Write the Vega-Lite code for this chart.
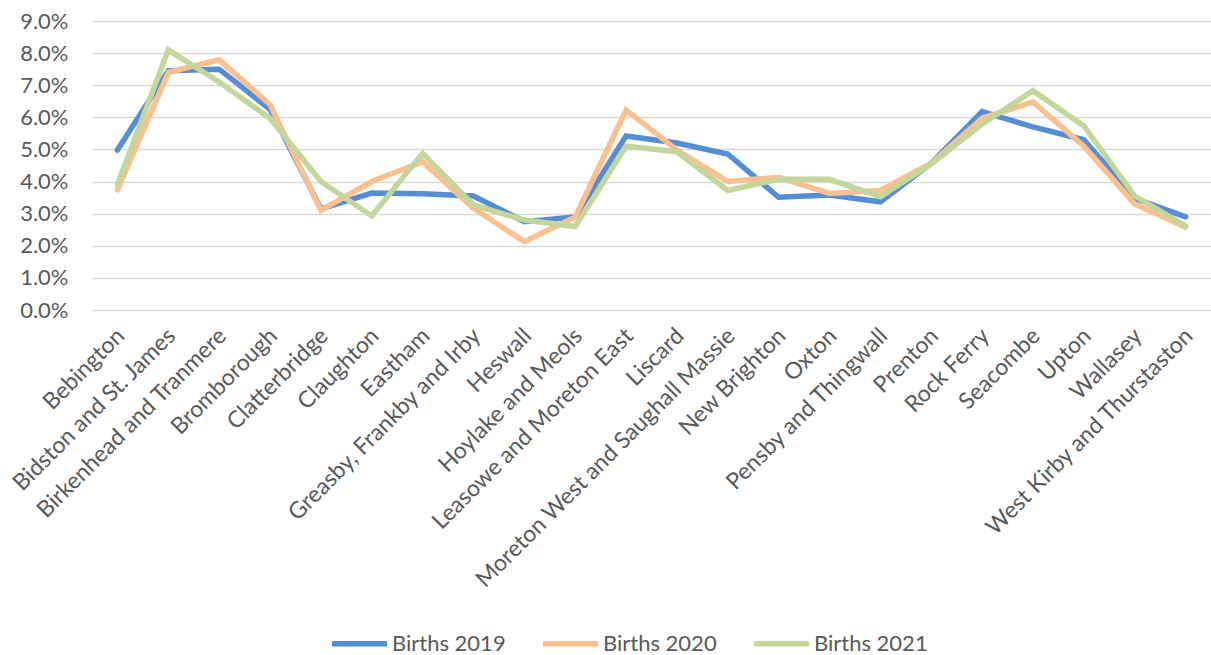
{
  "$schema": "https://vega.github.io/schema/vega-lite/v6.json",
  "width": 1119,
  "height": 289,
  "autosize": {"type": "none"},
  "padding": {"left": 92, "top": 21, "right": 0, "bottom": 345},
  "background": "white",
  "config": {
    "view": {"stroke": null},
    "font": "Lato",
    "axis": {"labelFont": "Lato", "labelColor": "#595959", "labelFontSize": 22}
  },
  "data": {
    "values": [
      {"ward": "Bebington", "series": "Births 2019", "v": 0.0498},
      {"ward": "Bebington", "series": "Births 2020", "v": 0.0374},
      {"ward": "Bebington", "series": "Births 2021", "v": 0.0390},
      {"ward": "Bidston and St. James", "series": "Births 2019", "v": 0.0745},
      {"ward": "Bidston and St. James", "series": "Births 2020", "v": 0.0740},
      {"ward": "Bidston and St. James", "series": "Births 2021", "v": 0.0810},
      {"ward": "Birkenhead and Tranmere", "series": "Births 2019", "v": 0.0750},
      {"ward": "Birkenhead and Tranmere", "series": "Births 2020", "v": 0.0779},
      {"ward": "Birkenhead and Tranmere", "series": "Births 2021", "v": 0.0710},
      {"ward": "Bromborough", "series": "Births 2019", "v": 0.0625},
      {"ward": "Bromborough", "series": "Births 2020", "v": 0.0640},
      {"ward": "Bromborough", "series": "Births 2021", "v": 0.0597},
      {"ward": "Clatterbridge", "series": "Births 2019", "v": 0.0315},
      {"ward": "Clatterbridge", "series": "Births 2020", "v": 0.0310},
      {"ward": "Clatterbridge", "series": "Births 2021", "v": 0.0400},
      {"ward": "Claughton", "series": "Births 2019", "v": 0.0364},
      {"ward": "Claughton", "series": "Births 2020", "v": 0.0400},
      {"ward": "Claughton", "series": "Births 2021", "v": 0.0293},
      {"ward": "Eastham", "series": "Births 2019", "v": 0.0362},
      {"ward": "Eastham", "series": "Births 2020", "v": 0.0462},
      {"ward": "Eastham", "series": "Births 2021", "v": 0.0488},
      {"ward": "Greasby, Frankby and Irby", "series": "Births 2019", "v": 0.0355},
      {"ward": "Greasby, Frankby and Irby", "series": "Births 2020", "v": 0.0317},
      {"ward": "Greasby, Frankby and Irby", "series": "Births 2021", "v": 0.0327},
      {"ward": "Heswall", "series": "Births 2019", "v": 0.0275},
      {"ward": "Heswall", "series": "Births 2020", "v": 0.0213},
      {"ward": "Heswall", "series": "Births 2021", "v": 0.0280},
      {"ward": "Hoylake and Meols", "series": "Births 2019", "v": 0.0290},
      {"ward": "Hoylake and Meols", "series": "Births 2020", "v": 0.0290},
      {"ward": "Hoylake and Meols", "series": "Births 2021", "v": 0.0260},
      {"ward": "Leasowe and Moreton East", "series": "Births 2019", "v": 0.0542},
      {"ward": "Leasowe and Moreton East", "series": "Births 2020", "v": 0.0623},
      {"ward": "Leasowe and Moreton East", "series": "Births 2021", "v": 0.0510},
      {"ward": "Liscard", "series": "Births 2019", "v": 0.0520},
      {"ward": "Liscard", "series": "Births 2020", "v": 0.0498},
      {"ward": "Liscard", "series": "Births 2021", "v": 0.0493},
      {"ward": "Moreton West and Saughall Massie", "series": "Births 2019", "v": 0.0486},
      {"ward": "Moreton West and Saughall Massie", "series": "Births 2020", "v": 0.0400},
      {"ward": "Moreton West and Saughall Massie", "series": "Births 2021", "v": 0.0372},
      {"ward": "New Brighton", "series": "Births 2019", "v": 0.0351},
      {"ward": "New Brighton", "series": "Births 2020", "v": 0.0413},
      {"ward": "New Brighton", "series": "Births 2021", "v": 0.0407},
      {"ward": "Oxton", "series": "Births 2019", "v": 0.0358},
      {"ward": "Oxton", "series": "Births 2020", "v": 0.0363},
      {"ward": "Oxton", "series": "Births 2021", "v": 0.0407},
      {"ward": "Pensby and Thingwall", "series": "Births 2019", "v": 0.0337},
      {"ward": "Pensby and Thingwall", "series": "Births 2020", "v": 0.0372},
      {"ward": "Pensby and Thingwall", "series": "Births 2021", "v": 0.0353},
      {"ward": "Prenton", "series": "Births 2019", "v": 0.0457},
      {"ward": "Prenton", "series": "Births 2020", "v": 0.0457},
      {"ward": "Prenton", "series": "Births 2021", "v": 0.0455},
      {"ward": "Rock Ferry", "series": "Births 2019", "v": 0.0618},
      {"ward": "Rock Ferry", "series": "Births 2020", "v": 0.0597},
      {"ward": "Rock Ferry", "series": "Births 2021", "v": 0.0579},
      {"ward": "Seacombe", "series": "Births 2019", "v": 0.0570},
      {"ward": "Seacombe", "series": "Births 2020", "v": 0.0648},
      {"ward": "Seacombe", "series": "Births 2021", "v": 0.0683},
      {"ward": "Upton", "series": "Births 2019", "v": 0.0530},
      {"ward": "Upton", "series": "Births 2020", "v": 0.0510},
      {"ward": "Upton", "series": "Births 2021", "v": 0.0573},
      {"ward": "Wallasey", "series": "Births 2019", "v": 0.0348},
      {"ward": "Wallasey", "series": "Births 2020", "v": 0.0330},
      {"ward": "Wallasey", "series": "Births 2021", "v": 0.0355},
      {"ward": "West Kirby and Thurstaston", "series": "Births 2019", "v": 0.0290},
      {"ward": "West Kirby and Thurstaston", "series": "Births 2020", "v": 0.0258},
      {"ward": "West Kirby and Thurstaston", "series": "Births 2021", "v": 0.0262}
    ]
  },
  "mark": {"type": "line", "strokeWidth": 5.5, "strokeCap": "round", "strokeJoin": "miter"},
  "encoding": {
    "x": {
      "field": "ward",
      "type": "nominal",
      "sort": null,
      "title": null,
      "scale": {"type": "point", "paddingOuter": 0.38},
      "axis": {
        "labelAngle": -45,
        "labelAlign": "right",
        "labelBaseline": "middle",
        "labelPadding": 22,
        "labelOffset": 3,
        "labelFontSize": 23,
        "domain": false,
        "ticks": false,
        "grid": false,
        "labelOverlap": false,
        "labelLimit": 500
      }
    },
    "y": {
      "field": "v",
      "type": "quantitative",
      "title": null,
      "scale": {"domain": [0, 0.09], "nice": false},
      "axis": {
        "format": ".1%",
        "values": [0, 0.01, 0.02, 0.03, 0.04, 0.05, 0.06, 0.07, 0.08, 0.09],
        "domain": false,
        "ticks": false,
        "labelPadding": 24,
        "gridColor": "#D9D9D9",
        "gridWidth": 1.5
      }
    },
    "color": {
      "field": "series",
      "type": "nominal",
      "title": null,
      "scale": {
        "domain": ["Births 2019", "Births 2020", "Births 2021"],
        "range": ["#558ED5", "#FAC090", "#C3D69B"]
      },
      "legend": {
        "orient": "none",
        "legendX": 237,
        "legendY": 592,
        "direction": "horizontal",
        "symbolType": "stroke",
        "symbolStrokeWidth": 5.5,
        "symbolSize": 3025,
        "labelFontSize": 22,
        "labelFont": "Lato",
        "labelColor": "#595959",
        "labelOffset": 2,
        "columnPadding": 26
      }
    }
  }
}
